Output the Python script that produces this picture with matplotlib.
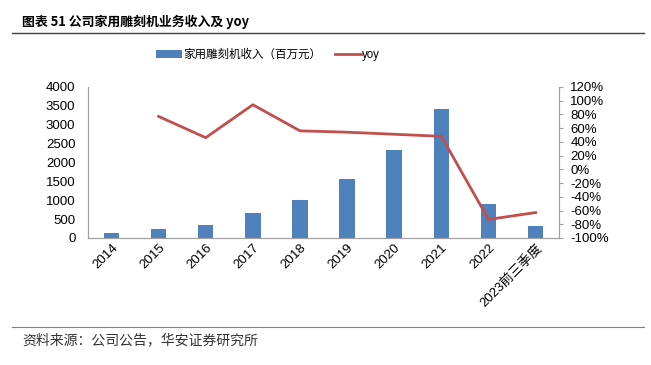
import numpy as np
import matplotlib.pyplot as plt
from matplotlib.ticker import FuncFormatter

plt.rcParams["font.family"] = ["Liberation Sans", "Noto Sans CJK SC", "DejaVu Sans"]

years = ["2014", "2015", "2016", "2017", "2018", "2019", "2020", "2021", "2022", "2023前三季度"]
revenue = [132, 240, 345, 650, 1010, 1560, 2320, 3425, 900, 307]
yoy = [np.nan, 77, 46, 94, 56, 54, 51, 48, -73, -63]

fig = plt.figure(figsize=(6.51, 3.65), dpi=100)
ax1 = fig.add_axes([0.135, 0.348, 0.724, 0.414])
ax2 = ax1.twinx()

x = np.arange(len(years))
bars = ax1.bar(x, revenue, width=0.33, color="#4f81bd", label="家用雕刻机收入（百万元）")
line, = ax2.plot(x, yoy, color="#c0504d", lw=2, label="yoy")

ax1.set_xlim(-0.5, len(years) - 0.5)
ax1.set_ylim(0, 4000)
ax1.set_yticks(range(0, 4001, 500))
ax2.set_ylim(-100, 120)
ax2.set_yticks(range(-100, 121, 20))
ax2.yaxis.set_major_formatter(FuncFormatter(lambda v, p: f"{v:.0f}%"))

ax1.set_xticks(x)
ax1.set_xticklabels(years, rotation=45, ha="right", rotation_mode="anchor", fontsize=9.5)
ax1.tick_params(axis="x", length=0, pad=3)
ax1.tick_params(axis="y", length=0, labelsize=9.5, pad=9)
ax2.tick_params(axis="y", length=3, color="#a0a0a0", labelsize=9.5, pad=5)

for a in (ax1, ax2):
    a.spines["top"].set_visible(False)
    for s in ("left", "right", "bottom"):
        a.spines[s].set_color("#a0a0a0")
        a.spines[s].set_linewidth(0.8)

fig.legend(handles=[bars, line], loc="center", bbox_to_anchor=(0.412, 0.849), ncol=2,
           frameon=False, fontsize=8.3, handlelength=2.2, columnspacing=1.2, handletextpad=0.15)

fig.text(0.034, 0.94, "图表 51 公司家用雕刻机业务收入及 yoy", fontsize=9.3, fontweight="bold",
         family=["Noto Sans CJK SC", "DejaVu Sans"], va="center")
fig.add_artist(plt.Line2D([0.018, 0.99], [0.91, 0.91], color="#404040", lw=1))
fig.add_artist(plt.Line2D([0.018, 0.99], [0.104, 0.104], color="#808080", lw=0.8))
fig.text(0.034, 0.068, "资料来源：公司公告，华安证券研究所", fontsize=10, color="#333333",
         family=["Noto Sans CJK SC", "DejaVu Sans"], va="center")

fig.savefig("out.png", dpi=100)
